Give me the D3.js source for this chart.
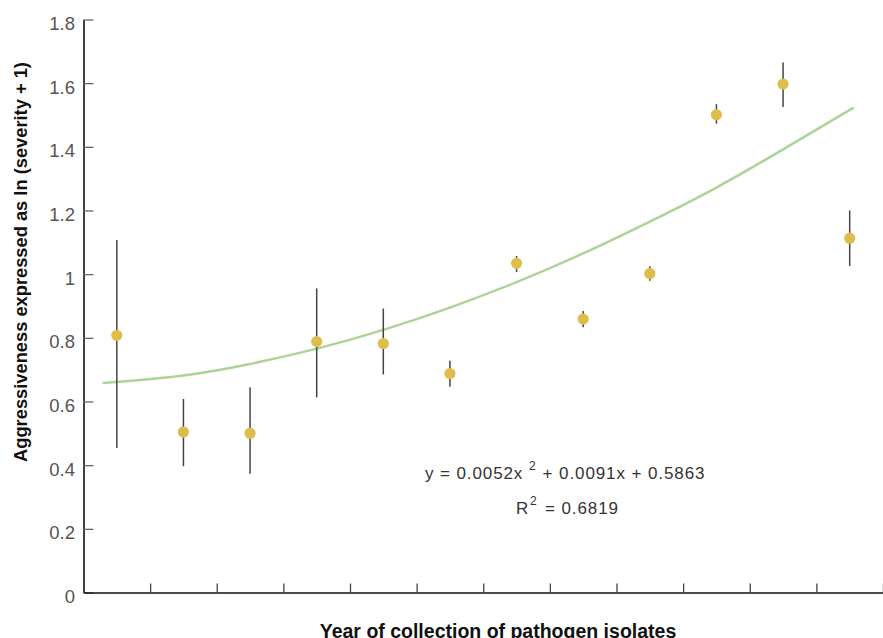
<!DOCTYPE html>
<html>
<head>
<meta charset="utf-8">
<script src="https://cdn.jsdelivr.net/npm/d3@7"></script>
<style>
  html, body { margin: 0; padding: 0; background: #fff; }
  svg { display: block; }
  .lbl { font-family: "Liberation Sans", Arial, sans-serif; }
</style>
</head>
<body>
<div id="chart"></div>
<script>
// Valeurs (12 années de collecte, sans étiquettes)
const years = [1, 2, 3, 4, 5, 6, 7, 8, 9, 10, 11, 12];
const means = [0.808, 0.504, 0.500, 0.788, 0.782, 0.688, 1.034, 0.859, 1.002, 1.501, 1.597, 1.113];
const lower = [0.454, 0.397, 0.373, 0.613, 0.685, 0.646, 1.007, 0.833, 0.979, 1.473, 1.525, 1.026];
const upper = [1.107, 0.608, 0.645, 0.955, 0.892, 0.728, 1.057, 0.884, 1.025, 1.534, 1.665, 1.200];

// courbe de tendance
const trendX = [0.785, 2, 3, 4, 5, 6, 7, 8, 9, 10, 11, 12.06];
const trendY = [0.658, 0.682, 0.718, 0.766, 0.825, 0.895, 0.975, 1.065, 1.165, 1.272, 1.392, 1.523];

const yTicks = [0, 0.2, 0.4, 0.6, 0.8, 1, 1.2, 1.4, 1.6, 1.8];
const xBounds = [1.5, 2.5, 3.5, 4.5, 5.5, 6.5, 7.5, 8.5, 9.5, 10.5, 11.5, 12.5];

const W = 883, H = 638;
const svg = d3.select("#chart").append("svg").attr("width", W).attr("height", H);

const x = d3.scaleLinear().domain([0.5, 12.5]).range([83.5, 883]);
const y = d3.scaleLinear().domain([0, 1.8]).range([592.5, 19.5]);

// Axe Y
const gy = svg.append("g").attr("transform", "translate(83.5,0)")
  .call(d3.axisLeft(y).tickValues(yTicks).tickSizeInner(-10).tickSizeOuter(0).tickPadding(8.5)
    .tickFormat(d => String(d)));
gy.select(".domain").attr("stroke", "#111").attr("stroke-width", 1.6);
gy.selectAll(".tick line").attr("stroke", "#666").attr("stroke-width", 1.3);
gy.selectAll(".tick text").attr("class", "lbl").attr("font-size", 18.5).attr("fill", "#555")
  .attr("dy", "0.54em");

// Axe X (pas d'étiquettes)
const gx = svg.append("g").attr("transform", "translate(0,592.5)")
  .call(d3.axisBottom(x).tickValues(xBounds).tickSizeInner(-9).tickSizeOuter(0).tickFormat(""));
gx.select(".domain").attr("stroke", "#111").attr("stroke-width", 1.6);
gx.selectAll(".tick line").attr("stroke", "#444").attr("stroke-width", 1.3);

// Tendance
const trend = trendX.map((v, i) => [v, trendY[i]]);
svg.append("path")
  .datum(trend)
  .attr("fill", "none")
  .attr("stroke", "#acd49a")
  .attr("stroke-width", 2.5)
  .attr("d", d3.line().x(d => x(d[0])).y(d => y(d[1])).curve(d3.curveNatural));

// Barres d'erreur
svg.append("g").selectAll("line")
  .data(years)
  .enter()
  .append("line")
  .attr("x1", d => x(d))
  .attr("x2", d => x(d))
  .attr("y1", (d, i) => y(lower[i]))
  .attr("y2", (d, i) => y(upper[i]))
  .attr("stroke", "#444")
  .attr("stroke-width", 1.5);

// Points
svg.append("g").selectAll("circle")
  .data(years)
  .enter()
  .append("circle")
  .attr("cx", d => x(d))
  .attr("cy", (d, i) => y(means[i]))
  .attr("r", 5.6)
  .attr("fill", "#dfbd4b");

// Equation + R2
const eq = svg.append("text").attr("class", "lbl").attr("y", 479)
  .attr("font-size", 17).attr("fill", "#333").attr("letter-spacing", 0.9);
eq.append("tspan").attr("x", 425).text("y = 0.0052x");
eq.append("tspan").attr("x", 529).attr("y", 470).attr("font-size", 12).text("2");
eq.append("tspan").attr("x", 537).attr("y", 479).text(" + 0.0091x + 0.5863");

const r2 = svg.append("text").attr("class", "lbl").attr("y", 514)
  .attr("font-size", 17).attr("fill", "#333").attr("letter-spacing", 0.9);
r2.append("tspan").attr("x", 516).text("R");
r2.append("tspan").attr("x", 530).attr("y", 505).attr("font-size", 12).text("2");
r2.append("tspan").attr("x", 545).attr("y", 514).text("= 0.6819");

// Titres
svg.append("text")
  .attr("x", 498).attr("y", 638)
  .attr("text-anchor", "middle")
  .attr("font-family", "'Liberation Sans', Arial, sans-serif")
  .attr("font-weight", "bold").attr("font-size", 19.5).attr("fill", "#111")
  .text("Year of collection of pathogen isolates");

svg.append("text")
  .attr("transform", "translate(27,262) rotate(-90)")
  .attr("text-anchor", "middle")
  .attr("font-family", "'Liberation Sans', Arial, sans-serif")
  .attr("font-weight", "bold").attr("font-size", 18.3).attr("fill", "#111")
  .text("Aggressiveness expressed as ln (severity + 1)");
</script>
</body>
</html>
